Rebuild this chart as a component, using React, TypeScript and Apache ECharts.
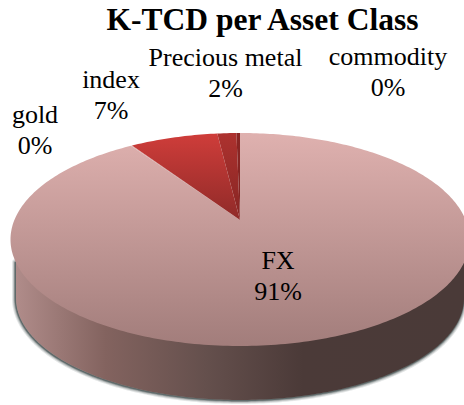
import React, { useEffect, useRef } from "react";
import * as echarts from "echarts";

const categories = ["FX", "gold", "index", "Precious metal", "commodity"];
const shares = [90.6, 0.1, 7.4, 1.6, 0.3];
const titleText = "K-TCD per Asset Class";

const FONT = "'Liberation Serif', 'Times New Roman', serif";
const CX = 240;
const CY = 239.5;
const RX = 229.5;
const RY = 106.5;
const APEX_Y = 220;
const A = (CY - APEX_Y) / RY;
const SIDE = { cy: 298, rx: 224, ry: 102, top: 262 };
const labelPos: [number, number][] = [
  [278, 276],
  [35, 130],
  [111, 95],
  [225.5, 73],
  [388, 72],
];
const fills: [string, string][] = [
  ["#dfb1af", "#a27d7b"],
  ["#dfb1af", "#a27d7b"],
  ["#cf3d3a", "#8f2a28"],
  ["#ad322f", "#862523"],
  ["#8a2624", "#7e2220"],
];
const shadowLayers: [number, number][] = [
  [7, 0.12],
  [5, 0.18],
  [3, 0.3],
  [1.5, 0.45],
];

// project a true pie angle onto the tilted top face
function project(theta: number): [number, number] {
  const X = Math.sin(theta);
  const Y = Math.cos(theta);
  const d = 1 + A * Y;
  const xp = (X * Math.sqrt(1 - A * A)) / d;
  const yp = (Y + A) / d;
  return [CX + RX * xp, CY - RY * yp];
}

function sectorPoints(start: number, end: number) {
  const pts: number[][] = [[CX, APEX_Y]];
  const steps = Math.max(2, Math.ceil(((end - start) * 180) / Math.PI));
  for (let i = 0; i <= steps; i++) {
    pts.push(project(start + ((end - start) * i) / steps));
  }
  return pts;
}

function sidePoints() {
  const pts: number[][] = [[CX + SIDE.rx, SIDE.top]];
  for (let d = 0; d <= 180; d += 1) {
    const t = (d * Math.PI) / 180;
    pts.push([CX + SIDE.rx * Math.cos(t), SIDE.cy + SIDE.ry * Math.sin(t)]);
  }
  pts.push([CX - SIDE.rx, SIDE.top]);
  return pts;
}

export default function App() {
  const ref = useRef<HTMLDivElement>(null);
  useEffect(() => {
    const chart = echarts.init(ref.current!, null, { renderer: "svg" });
    const total = shares.reduce((a, b) => a + b, 0);
    const data = shares.map((v, i) => {
      const before = shares.slice(0, i).reduce((a, b) => a + b, 0);
      return { name: categories[i], value: [v, before] };
    });
    chart.setOption({
      animation: false,
      backgroundColor: "#ffffff",
      title: {
        text: titleText,
        left: 257.5,
        top: -2,
        textAlign: "center",
        textStyle: { fontFamily: FONT, fontWeight: "bold", fontSize: 31.5, color: "#000" },
      },
      series: [
        {
          type: "custom",
          coordinateSystem: "none",
          silent: true,
          z: 1,
          data: [[1]],
          renderItem: () => ({
            type: "group",
            children: [
              ...shadowLayers.map(([w, o]) => ({
                type: "polygon",
                x: -0.5,
                y: 0.5,
                shape: { points: sidePoints() },
                style: {
                  fill: "none",
                  stroke: `rgba(35,50,50,${o})`,
                  lineWidth: w,
                  lineJoin: "round",
                },
              })),
              {
                type: "polygon",
                shape: { points: sidePoints() },
                style: {
                  fill: {
                    type: "linear",
                    x: 0,
                    y: 0,
                    x2: 1,
                    y2: 0,
                    colorStops: [
                      { offset: 0, color: "#b08c8a" },
                      { offset: 0.2, color: "#83635f" },
                      { offset: 0.42, color: "#65504d" },
                      { offset: 0.64, color: "#4b3a38" },
                      { offset: 1, color: "#4a3a38" },
                    ],
                  },
                },
              },
            ],
          }),
        },
        {
          type: "custom",
          coordinateSystem: "none",
          silent: true,
          z: 2,
          data,
          renderItem: (params: any, api: any) => {
            const i = params.dataIndex;
            const v = api.value(0);
            const before = api.value(1);
            const start = (before / total) * 2 * Math.PI;
            const end = ((before + v) / total) * 2 * Math.PI;
            return {
              type: "group",
              children: [
                {
                  type: "polygon",
                  shape: { points: sectorPoints(start, end) },
                  style: {
                    fill: {
                      type: "linear",
                      x: 0,
                      y: 0,
                      x2: 0,
                      y2: 1,
                      colorStops: [
                        { offset: 0, color: fills[i][0] },
                        { offset: 1, color: fills[i][1] },
                      ],
                    },
                  },
                },
                {
                  type: "text",
                  z2: 10,
                  x: labelPos[i][0],
                  y: labelPos[i][1],
                  style: {
                    text: `${categories[i]}\n${Math.round(v)}%`,
                    fontFamily: FONT,
                    fontSize: 26,
                    lineHeight: 31,
                    fill: "#000",
                    align: "center",
                    verticalAlign: "middle",
                  },
                },
              ],
            };
          },
        },
      ],
    });
    return () => chart.dispose();
  }, []);
  return (
    <div
      ref={ref}
      style={{ position: "absolute", left: 0, top: 0, width: 464, height: 405, overflow: "hidden" }}
    />
  );
}
